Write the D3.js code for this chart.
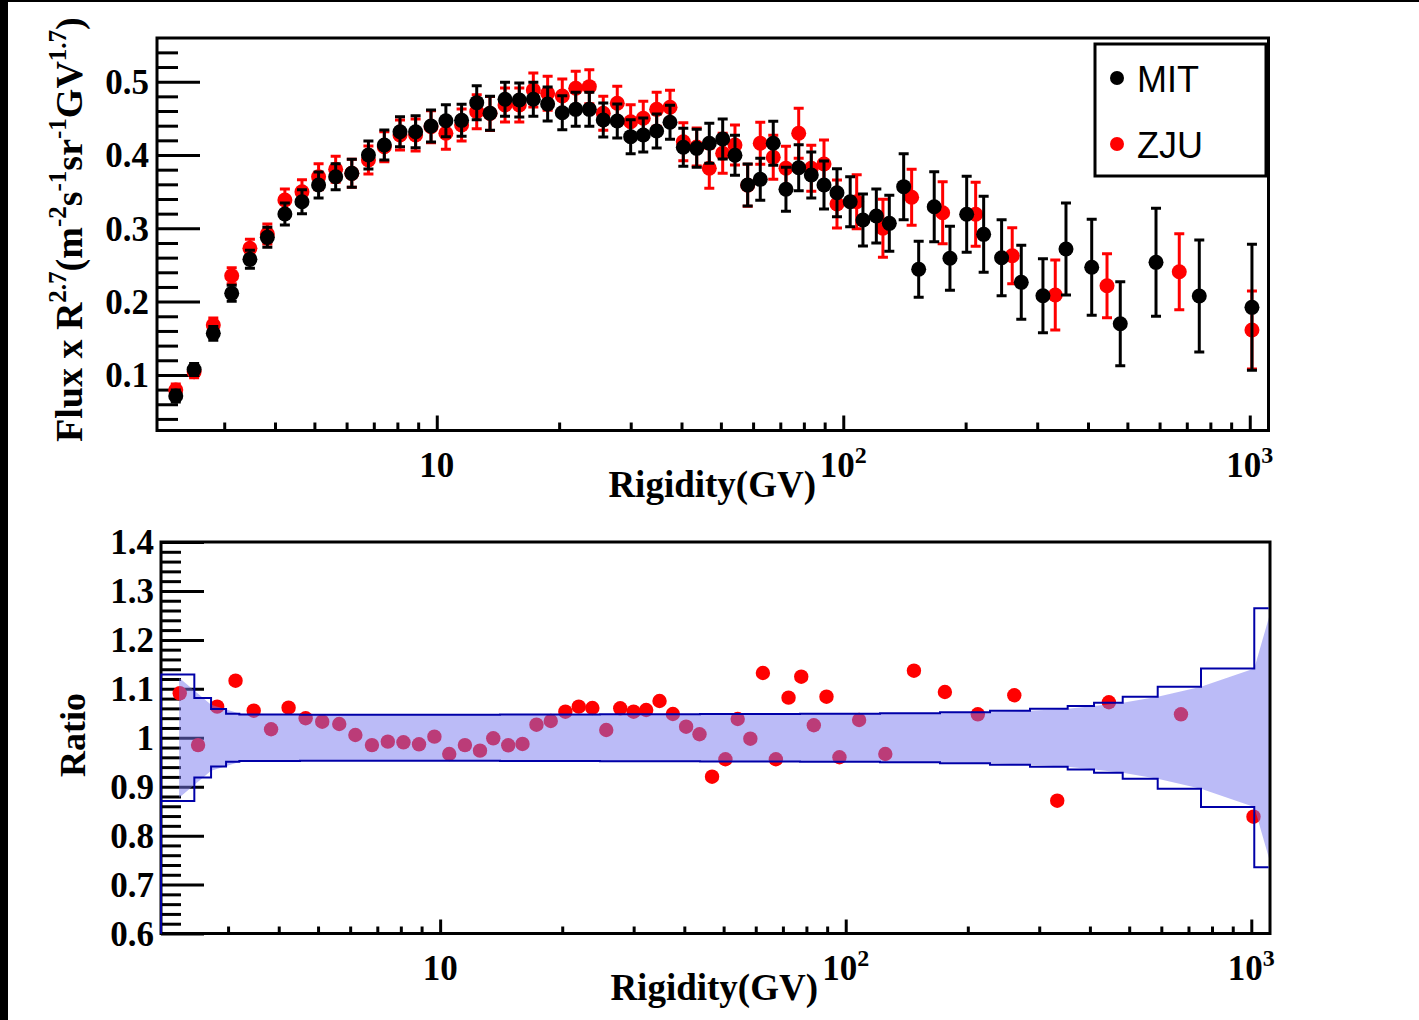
<!DOCTYPE html>
<html><head><meta charset="utf-8">
<script src="https://cdn.jsdelivr.net/npm/d3@7"></script>
<style>body{margin:0;background:#fff}svg{display:block}</style>
</head><body><svg id="c" width="1419" height="1020"></svg>
<script>
// ---------------- data ----------------
const mitR = [2.28,2.53,2.82,3.13,3.47,3.83,4.23,4.66,5.12,5.64,6.18,6.79,7.43,8.12,8.87,9.68,10.53,11.51,12.54,13.52,14.72,15.96,17.28,18.74,20.36,21.97,23.73,25.68,27.8,29.99,32.21,34.75,37.48,40.41,43.6,46.82,50.51,54.15,58.19,62.49,67.26,72.28,77.69,83.43,89.66,96.5,104.0,111.8,120.6,129.8,140.8,153.3,167.4,183.0,201.2,221.5,245.2,274.1,309.9,353.1,408.5,480.2,588.0,751.3,1012.5];
const mitFlux = [0.0712,0.1074,0.1567,0.2113,0.2577,0.2877,0.3195,0.3363,0.3591,0.3704,0.375,0.400,0.4136,0.4318,0.4318,0.4396,0.4468,0.4473,0.4714,0.4569,0.476,0.475,0.476,0.4696,0.4577,0.4623,0.4623,0.4477,0.4464,0.425,0.4273,0.4327,0.4446,0.4105,0.4091,0.416,0.4218,0.3996,0.3591,0.3668,0.416,0.3532,0.3827,0.3727,0.3591,0.3486,0.3363,0.3113,0.3168,0.3068,0.3568,0.2441,0.3295,0.2591,0.3191,0.2918,0.2599,0.2263,0.208,0.2718,0.2468,0.1698,0.2536,0.2076,0.1922];
const mitErr = [0.0082,0.0082,0.0095,0.0109,0.0123,0.0136,0.015,0.0164,0.0177,0.0177,0.0191,0.0191,0.0205,0.0205,0.0218,0.0218,0.0218,0.0218,0.0232,0.0232,0.0232,0.0232,0.0232,0.0232,0.0232,0.0232,0.0232,0.0232,0.0232,0.0232,0.0232,0.0232,0.0232,0.0259,0.0259,0.0273,0.0273,0.0273,0.0286,0.0286,0.030,0.030,0.0314,0.0314,0.0327,0.0327,0.0341,0.0355,0.0368,0.0382,0.045,0.0382,0.0477,0.0437,0.0518,0.0518,0.0518,0.0505,0.0505,0.0628,0.0655,0.0573,0.0737,0.0764,0.0859];

const zjuR = [2.28,2.53,2.82,3.13,3.47,3.83,4.23,4.66,5.12,5.64,6.18,6.79,7.43,8.12,8.87,9.68,10.53,11.51,12.54,13.52,14.72,15.96,17.28,18.74,20.36,21.97,23.73,25.68,27.8,29.99,32.21,34.75,37.48,40.41,43.6,46.82,50.51,54.15,58.19,62.49,67.26,72.28,77.69,83.43,89.66,96.5,107.9,125.2,147.3,175.6,211.7,260.4,332.3,445.5,670.8,1012.5];
const zjuFlux = [0.0794,0.1044,0.1681,0.2353,0.2727,0.2922,0.3386,0.3499,0.3704,0.3805,0.375,0.3932,0.4113,0.4273,0.4273,0.4386,0.4296,0.4409,0.4591,0.4566,0.4682,0.4682,0.4887,0.4842,0.4805,0.491,0.4932,0.4569,0.4705,0.4454,0.4501,0.4623,0.4651,0.4181,0.4109,0.3819,0.4023,0.4136,0.3587,0.416,0.3969,0.3819,0.4296,0.3819,0.3877,0.3331,0.3363,0.300,0.3423,0.3213,0.3191,0.2626,0.209,0.2217,0.2408,0.1613];
const zjuErr = [0.0082,0.0082,0.0095,0.0109,0.0123,0.0136,0.015,0.0164,0.0177,0.0177,0.0191,0.0191,0.0205,0.0205,0.0218,0.0218,0.0218,0.0218,0.0232,0.0232,0.0232,0.0232,0.0232,0.0232,0.0232,0.0232,0.0232,0.0232,0.0232,0.0232,0.0232,0.0232,0.0232,0.0259,0.0259,0.0273,0.0273,0.0273,0.0286,0.0286,0.030,0.030,0.0341,0.0314,0.0327,0.0327,0.0368,0.0396,0.0382,0.0423,0.0437,0.0382,0.0477,0.0437,0.0518,0.0532];

const ratioVals = [1.0908,0.985,1.0635,1.1166,1.0553,1.0173,1.0614,1.0398,1.0328,1.0281,1.0056,0.985,0.992,0.9907,0.9866,1.0022,0.9668,0.985,0.9736,0.9989,0.9846,0.9873,1.0267,1.0342,1.0532,1.0635,1.0608,1.0159,1.0602,1.0532,1.0567,1.0751,1.0485,1.0226,1.0071,0.9204,0.956,1.0383,0.9981,1.1323,0.956,1.0819,1.1248,1.0255,1.0839,0.9601,1.0363,0.9668,1.137,1.0935,1.0479,1.0868,0.8714,1.0725,1.0479,0.8387];

// uncertainty band: histogram bins (edges) and fill polygon vertices
const bandEdges = [2.05,2.477,2.724,2.966,3.198,4.513,7.964,14.05,24.79,43.74,77.15,121.5,170.8,226.9,284.7,352.6,409.5,481.9,587.8,751.6,1017,1300];
const bandHalf  = [0.1293,0.0811,0.0588,0.049,0.0476,0.047,0.047,0.0474,0.0478,0.0484,0.049,0.0503,0.0521,0.0552,0.0593,0.0648,0.0715,0.0838,0.1042,0.1414,0.2646];
const fillR    = [2.272,2.724,3.212,4.513,7.964,14.05,24.79,43.74,77.15,121.5,170.8,226.9,284.7,352.6,409.5,481.9,587.8,751.6,1017,1112];
const fillHalf = [0.1226,0.0674,0.049,0.0476,0.047,0.047,0.0474,0.0478,0.0484,0.049,0.0503,0.0521,0.0552,0.0593,0.0648,0.0715,0.0838,0.1042,0.1414,0.2534];

const xDomain = [2.05, 1112];
const topYDomain = [0.0242, 0.5596];
const botYDomain = [0.6, 1.4];
const topYLabels = [0.1,0.2,0.3,0.4,0.5];
const botYLabels = [0.6,0.7,0.8,0.9,1.0,1.1,1.2,1.3,1.4];
const xLabels = [10,100,1000];
const legendNames = ["MIT","ZJU"];
const legendColors = ["#000000","#ff0000"];

// ---------------- drawing ----------------
const SERIF = "'Liberation Serif','Times New Roman',serif";
const SANS = "'Liberation Sans',Arial,sans-serif";
const svg = d3.select('#c');
svg.append('rect').attr('width',1419).attr('height',1020).attr('fill','#fff');
svg.append('rect').attr('x',0).attr('y',0).attr('width',8).attr('height',1020).attr('fill','#000');
svg.append('rect').attr('x',0).attr('y',0).attr('width',1419).attr('height',2).attr('fill','#000');

const xTop = d3.scaleLog().domain(xDomain).range([157,1268.5]);
const yTop = d3.scaleLinear().domain(topYDomain).range([430.5,38]);
const xBot = d3.scaleLog().domain(xDomain).range([161,1270]);
const yBot = d3.scaleLinear().domain(botYDomain).range([933.5,542]);

const defs = svg.append('defs');
defs.append('clipPath').attr('id','clipTop').append('rect')
  .attr('x',157).attr('y',38).attr('width',1111.5).attr('height',392.5);
defs.append('clipPath').attr('id','clipBot').append('rect')
  .attr('x',161).attr('y',542).attr('width',1109).attr('height',391.5);
defs.append('clipPath').attr('id','clipBotLine').append('rect')
  .attr('x',160.3).attr('y',540).attr('width',1108.3).attr('height',395);

function minorVals(dom, step){
  const a = Math.ceil(dom[0]/step - 1e-9), b = Math.floor(dom[1]/step + 1e-9);
  return d3.range(a, b+1).map(i => +(i*step).toFixed(4));
}
function isMajorY(v, step){ return Math.abs(v/step - Math.round(v/step)) < 1e-6; }

function drawAxes(xs, ys, yDom, yTickX, xTickY, majLenY, minLenY, majLenX, minLenX){
  const g = svg.append('g');
  const yv = minorVals(yDom, 0.02);
  const yMin = yv.filter(v => !isMajorY(v, 0.1));
  const yMaj = yv.filter(v => isMajorY(v, 0.1));
  g.append('g').attr('transform',`translate(${yTickX},0)`)
    .call(d3.axisRight(ys).tickValues(yMin).tickSize(minLenY).tickFormat(''))
    .call(s => s.select('.domain').remove())
    .call(s => s.selectAll('line').attr('stroke','#000').attr('stroke-width',3));
  g.append('g').attr('transform',`translate(${yTickX},0)`)
    .call(d3.axisRight(ys).tickValues(yMaj).tickSize(majLenY).tickFormat(''))
    .call(s => s.select('.domain').remove())
    .call(s => s.selectAll('line').attr('stroke','#000').attr('stroke-width',3));
  const xt = xs.ticks();
  const xMaj = xt.filter(v => Math.abs(Math.log10(v) - Math.round(Math.log10(v))) < 1e-9);
  const xMin = xt.filter(v => !xMaj.includes(v));
  g.append('g').attr('transform',`translate(0,${xTickY})`)
    .call(d3.axisTop(xs).tickValues(xMin).tickSize(minLenX).tickFormat(''))
    .call(s => s.select('.domain').remove())
    .call(s => s.selectAll('line').attr('stroke','#000').attr('stroke-width',3));
  g.append('g').attr('transform',`translate(0,${xTickY})`)
    .call(d3.axisTop(xs).tickValues(xMaj).tickSize(majLenX).tickFormat(''))
    .call(s => s.select('.domain').remove())
    .call(s => s.selectAll('line').attr('stroke','#000').attr('stroke-width',3));
}

function yLabel(ys, vals, xEnd, fmt){
  svg.append('g').selectAll('text').data(vals).join('text')
    .attr('x', xEnd).attr('y', d => ys(d)).attr('dy','0.35em')
    .attr('text-anchor','end').attr('font-family',SERIF).attr('font-weight','bold')
    .attr('font-size',35).attr('fill','#000').text(fmt);
}
function xLabel(xs, yBase){
  const t = svg.append('g').selectAll('text').data(xLabels).join('text')
    .attr('x', d => xs(d)).attr('y', yBase).attr('text-anchor','middle')
    .attr('font-family',SERIF).attr('font-weight','bold').attr('font-size',35).attr('fill','#000');
  t.each(function(d){
    const e = Math.round(Math.log10(d));
    const s = d3.select(this);
    if (e === 1) { s.text('10'); return; }
    s.append('tspan').text('10');
    s.append('tspan').attr('font-size',24).attr('dy',-14).text(String(e));
  });
}
function xTitle(xEnd, yBase){
  svg.append('text').attr('x',xEnd).attr('y',yBase).attr('text-anchor','end')
    .attr('font-family',SERIF).attr('font-weight','bold').attr('font-size',37).attr('fill','#000')
    .text('Rigidity(GV)');
}

// ---------- TOP PANEL ----------
drawAxes(xTop, yTop, topYDomain, 157, 430.5, 43, 21, 15, 8);

const gTop = svg.append('g').attr('clip-path','url(#clipTop)');
function drawSeries(g, R, V, E, color){
  const pts = R.map((r,i) => ({x: xTop(r), v: V[i], e: E[i]}));
  const gg = g.append('g').attr('stroke',color).attr('stroke-width',3);
  gg.selectAll('line.v').data(pts).join('line').attr('class','v')
    .attr('x1',d=>d.x).attr('x2',d=>d.x).attr('y1',d=>yTop(d.v-d.e)).attr('y2',d=>yTop(d.v+d.e));
  gg.selectAll('line.t').data(pts).join('line').attr('class','t')
    .attr('x1',d=>d.x-5).attr('x2',d=>d.x+5).attr('y1',d=>yTop(d.v+d.e)).attr('y2',d=>yTop(d.v+d.e));
  gg.selectAll('line.b').data(pts).join('line').attr('class','b')
    .attr('x1',d=>d.x-5).attr('x2',d=>d.x+5).attr('y1',d=>yTop(d.v-d.e)).attr('y2',d=>yTop(d.v-d.e));
  g.append('g').selectAll('circle').data(pts).join('circle')
    .attr('cx',d=>d.x).attr('cy',d=>yTop(d.v)).attr('r',7.5).attr('fill',color);
}
drawSeries(gTop, zjuR, zjuFlux, zjuErr, '#ff0000');
drawSeries(gTop, mitR, mitFlux, mitErr, '#000000');

svg.append('rect').attr('x',157).attr('y',38).attr('width',1111.5).attr('height',392.5)
  .attr('fill','none').attr('stroke','#000').attr('stroke-width',3);

yLabel(yTop, topYLabels, 149, d => d3.format('.1f')(d));
xLabel(xTop, 477);
xTitle(816, 497);

// y title (top)
{
  const t = svg.append('text').attr('transform','translate(82,442) rotate(-90)')
    .attr('font-family',SERIF).attr('font-weight','bold').attr('font-size',38).attr('fill','#000');
  const parts = [['Flux x R',0],['2.7',1],['(m',0],['-2',1],['s',0],['-1',1],['sr',0],['-1',1],['GV',0],['1.7',1],[')',0]];
  let up = false;
  parts.forEach(([s,sup]) => {
    const sp = t.append('tspan').text(s);
    if (sup) { sp.attr('font-size',25).attr('dy', up ? 0 : -16); up = true; }
    else { sp.attr('font-size',38).attr('dy', up ? 16 : 0); up = false; }
  });
}

// legend
svg.append('rect').attr('x',1095).attr('y',44).attr('width',171).attr('height',132)
  .attr('fill','#fff').attr('stroke','#000').attr('stroke-width',3);
const lg = svg.append('g').selectAll('g').data(legendNames).join('g')
  .attr('transform',(d,i)=>`translate(1117,${78+i*66})`);
lg.append('circle').attr('r',7).attr('fill',(d,i)=>legendColors[i]);
lg.append('text').attr('x',20).attr('y',14).attr('font-family',SANS).attr('font-size',36)
  .attr('fill','#000').text(d=>d);

// ---------- BOTTOM PANEL ----------
drawAxes(xBot, yBot, botYDomain, 161, 933.5, 43, 20, 14, 7);

const gBot = svg.append('g').attr('clip-path','url(#clipBot)');
gBot.append('g').selectAll('circle').data(zjuR.map((r,i)=>({r, v: ratioVals[i]}))).join('circle')
  .attr('cx',d=>xBot(d.r)).attr('cy',d=>yBot(d.v)).attr('r',7.2).attr('fill','#ff0000');

// filled band
const fillPts = fillR.map((r,i)=>[xBot(r), yBot(1+fillHalf[i])])
  .concat(fillR.map((r,i)=>[xBot(r), yBot(1-fillHalf[i])]).reverse());
gBot.append('path').attr('d', d3.line()(fillPts) + 'Z')
  .attr('fill','#7878f0').attr('fill-opacity',0.5).attr('stroke','none');

svg.append('rect').attr('x',161).attr('y',542).attr('width',1109).attr('height',391.5)
  .attr('fill','none').attr('stroke','#000').attr('stroke-width',3);

// histogram outline of band
function stepPath(sign){
  const p = [[xBot(bandEdges[0]), yBot(botYDomain[0])]];
  bandHalf.forEach((h,i)=>{
    p.push([xBot(bandEdges[i]), yBot(1+sign*h)]);
    p.push([xBot(bandEdges[i+1]), yBot(1+sign*h)]);
  });
  p.push([xBot(bandEdges[bandEdges.length-1]), yBot(botYDomain[0])]);
  return d3.line()(p);
}
const gOut = svg.append('g').attr('clip-path','url(#clipBotLine)');
[1,-1].forEach(s => gOut.append('path').attr('d', stepPath(s))
  .attr('fill','none').attr('stroke','#0000a8').attr('stroke-width',2));

yLabel(yBot, botYLabels, 154, d => d3.format('.1~f')(d));
xLabel(xBot, 980);
xTitle(818, 1000);

svg.append('text').attr('transform','translate(85,735) rotate(-90)').attr('text-anchor','middle')
  .attr('font-family',SERIF).attr('font-weight','bold').attr('font-size',36).attr('fill','#000').text('Ratio');
</script></body></html>
